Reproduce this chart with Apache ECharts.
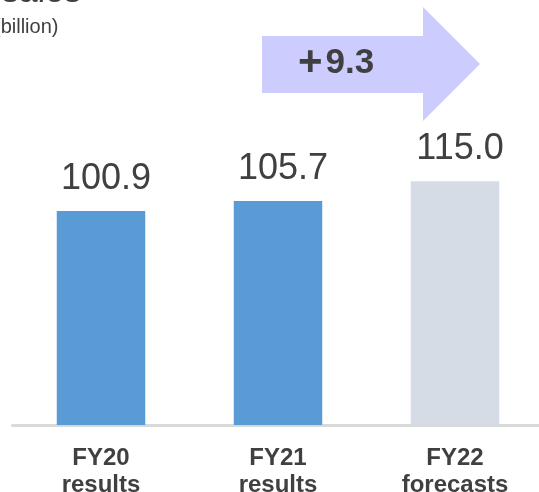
<!DOCTYPE html>
<html>
<head>
<meta charset="utf-8">
<script src="https://cdn.jsdelivr.net/npm/echarts@6/dist/echarts.min.js"></script>
<style>
  html, body { margin: 0; padding: 0; background: #ffffff; }
  #chart { width: 539px; height: 492px; }
</style>
</head>
<body>
<div id="chart"></div>
<script>
// Net sales (billion), FY20-FY21 results and FY22 forecast
const categories = ['FY20\nresults', 'FY21\nresults', 'FY22\nforecasts'];
const sales = [100.9, 105.7, 115.0];
const isForecast = [false, false, true];

const TEXT = '#404040';
const FONT = '"Liberation Sans", Arial, sans-serif';
const RESULT_COLOR = '#5b9bd5';
const FORECAST_COLOR = '#d6dce5';

// Increase from the latest result to the forecast
const change = (sales[2] - sales[1]).toFixed(1);

const chart = echarts.init(document.getElementById('chart'), null, { renderer: 'canvas' });

chart.setOption({
  animation: false,
  backgroundColor: '#ffffff',
  grid: {
    left: 12.5, right: -4.5, top: 107, bottom: 67,
    containLabel: false,
    outerBoundsMode: 'none'
  },
  xAxis: {
    type: 'category',
    data: categories,
    axisLine: { show: true, lineStyle: { color: '#d9d9d9', width: 3 } },
    axisTick: { show: false },
    axisLabel: {
      color: TEXT,
      fontFamily: FONT,
      fontSize: 24,
      fontWeight: 'bold',
      lineHeight: 27,
      margin: 20,
      interval: 0
    }
  },
  yAxis: {
    type: 'value',
    min: 0,
    max: 150,
    show: false,
    splitLine: { show: false }
  },
  series: [{
    type: 'bar',
    barWidth: '50%',
    data: sales.map((v, i) => ({
      value: v,
      itemStyle: { color: isForecast[i] ? FORECAST_COLOR : RESULT_COLOR }
    })),
    label: {
      show: true,
      position: 'top',
      distance: 14,
      offset: [5, 0],
      color: TEXT,
      fontFamily: FONT,
      fontSize: 36,
      formatter: p => p.value.toFixed(1)
    }
  }],
  graphic: [
    // heading, running off the top-left edge
    {
      type: 'text',
      x: 81, y: -7,
      style: {
        text: 'Net sales',
        align: 'right',
        verticalAlign: 'middle',
        fill: TEXT,
        font: '34px ' + FONT
      }
    },
    {
      type: 'text',
      x: -6, y: 27,
      style: {
        text: '(billion)',
        align: 'left',
        verticalAlign: 'middle',
        fill: TEXT,
        font: '20px ' + FONT
      }
    },
    // growth arrow
    {
      type: 'polygon',
      shape: {
        points: [[262, 36], [423, 36], [423, 7], [480, 64], [423, 121], [423, 93], [262, 93]]
      },
      style: { fill: '#ccccff' }
    },
    {
      type: 'text',
      x: 336, y: 63,
      style: {
        text: '{p|+}{n|' + change + '}',
        align: 'center',
        verticalAlign: 'middle',
        rich: {
          p: { fontSize: 42, fontWeight: 'bold', fontFamily: FONT, fill: TEXT, color: TEXT, padding: [0, 3, 0, 0] },
          n: { fontSize: 35, fontWeight: 'bold', fontFamily: FONT, fill: TEXT, color: TEXT }
        }
      }
    }
  ]
});
</script>
</body>
</html>
